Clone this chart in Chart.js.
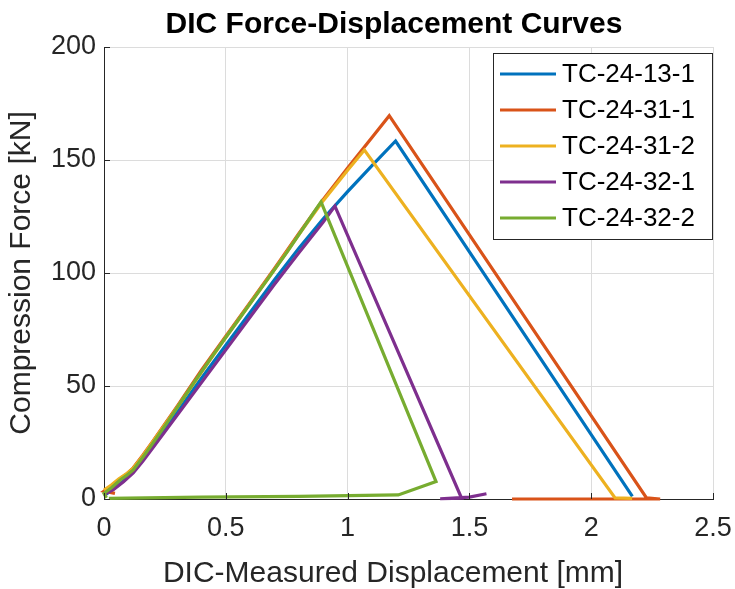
<!DOCTYPE html>
<html>
<head>
<meta charset="utf-8">
<title>DIC Force-Displacement Curves</title>
<script src="https://cdn.jsdelivr.net/npm/chart.js@4.4.0/dist/chart.umd.min.js"></script>
<style>
  html, body { margin: 0; padding: 0; background: #fff; }
  #wrap { width: 735px; height: 589px; position: relative; }
</style>
</head>
<body>
<div id="wrap"><canvas id="dic-chart"></canvas></div>
<script>
// --- datos (desplazamiento en mm, fuerza en kN) ---
const seriesLabels = ['TC-24-13-1', 'TC-24-31-1', 'TC-24-31-2', 'TC-24-32-1', 'TC-24-32-2'];
const seriesColors = ['#0072BD', '#D95319', '#EDB120', '#7E2F8E', '#77AC30'];

const disp13_1  = [0.0, 0.04, 0.08, 0.12, 0.16, 0.2, 0.3, 0.4, 0.5, 0.6, 0.7, 0.8, 0.9, 1.0, 1.1, 1.197, 2.169];
const force13_1 = [1.5, 4.5, 8, 12, 17.5, 23.5, 38.5, 53.5, 68, 82.5, 97, 111, 124, 136, 147.5, 158.4, 1.2];

const disp31_1  = [0.045, 0.0, 0.03, 0.06, 0.09, 0.12, 0.16, 0.2, 0.3, 0.4, 0.5, 0.6, 0.7, 0.8, 0.9, 1.0, 1.1, 1.171, 2.227, 2.283, 1.675];
const force31_1 = [2.5, 3.5, 5.8, 8.5, 10.8, 13.8, 19.5, 25.5, 41, 57, 72, 87, 102, 117.5, 132.5, 146.5, 160, 169.6, 0.5, 0, 0];

const disp31_2  = [0.0, 0.03, 0.06, 0.09, 0.12, 0.16, 0.2, 0.3, 0.4, 0.5, 0.6, 0.7, 0.8, 0.9, 1.0, 1.069, 2.098, 2.168];
const force31_2 = [4, 6.2, 8.8, 11, 13.6, 19.2, 25.2, 40.5, 56, 71.5, 86.5, 101.5, 117, 132, 145.5, 154.4, 0.5, 0.3];

const disp32_1  = [0.0, 0.04, 0.08, 0.12, 0.16, 0.2, 0.3, 0.4, 0.5, 0.6, 0.7, 0.8, 0.9, 0.948, 1.468, 1.38, 1.50, 1.57];
const force32_1 = [2, 4.3, 7.6, 11.5, 16.8, 22.5, 37, 51.5, 66, 80.5, 95, 109, 122.5, 129.6, 0.3, 0.1, 0.8, 2.3];

const disp32_2  = [0.01, 0.0, 0.033, 0.066, 0.095, 0.12, 0.161, 0.2, 0.257, 0.312, 0.367, 0.45, 0.55, 0.65, 0.75, 0.85, 0.891, 1.363, 1.208, 0.8, 0.4, 0.02];
const force32_2 = [0.5, 2.5, 5.2, 8.4, 10.6, 12.9, 18.7, 24.6, 33.5, 42.3, 51.2, 64, 79, 94, 109, 125, 131.5, 7.7, 1.8, 1.2, 0.8, 0.3];

const xTicks = [0, 0.5, 1, 1.5, 2, 2.5];
const yTicks = [0, 50, 100, 150, 200];

const allDisp  = [disp13_1, disp31_1, disp31_2, disp32_1, disp32_2];
const allForce = [force13_1, force31_1, force31_2, force32_1, force32_2];

const FONT = "'Liberation Sans', Arial, Helvetica, sans-serif";
const AXIS_COLOR = '#262626';

// --- construir datasets ---
const datasets = seriesLabels.map((label, i) => ({
    label: label,
    data: allDisp[i].map((x, k) => ({ x: x, y: allForce[i][k] })),
    borderColor: seriesColors[i],
    backgroundColor: seriesColors[i],
    borderWidth: 3.2,
    showLine: true,
    pointRadius: 0,
    tension: 0,
    clip: 6,
    order: seriesLabels.length - 1 - i // el ultimo (verde) queda encima
}));

// titulo, etiqueta x, leyenda y marcas de eje al estilo MATLAB
const matlabDecor = {
    id: 'matlabDecor',
    afterDraw(chart) {
        const ctx = chart.ctx;
        const area = chart.chartArea;
        const xs = chart.scales.x, ys = chart.scales.y;
        ctx.save();

        // marcas hacia dentro
        ctx.strokeStyle = AXIS_COLOR;
        ctx.lineWidth = 1;
        ctx.beginPath();
        xTicks.forEach(v => {
            const px = Math.round(xs.getPixelForValue(v)) + 0.5;
            ctx.moveTo(px, area.bottom);
            ctx.lineTo(px, area.bottom - 6);
        });
        yTicks.forEach(v => {
            const py = Math.round(ys.getPixelForValue(v)) + 0.5;
            ctx.moveTo(area.left, py);
            ctx.lineTo(area.left + 6, py);
        });
        ctx.stroke();

        // titulo
        ctx.fillStyle = '#000';
        ctx.font = 'bold 30px ' + FONT;
        ctx.textAlign = 'center';
        ctx.textBaseline = 'alphabetic';
        ctx.fillText('DIC Force-Displacement Curves', 394, 33);

        // etiqueta del eje x
        ctx.fillStyle = AXIS_COLOR;
        ctx.font = '30px ' + FONT;
        ctx.fillText('DIC-Measured Displacement [mm]', 393, 582);

        // leyenda
        const lx = 493.5, ly = 53.5, lw = 219, lh = 186;
        ctx.fillStyle = '#fff';
        ctx.fillRect(lx, ly, lw, lh);
        ctx.strokeStyle = AXIS_COLOR;
        ctx.lineWidth = 1;
        ctx.strokeRect(lx, ly, lw, lh);
        ctx.font = '26px ' + FONT;
        ctx.textAlign = 'left';
        ctx.textBaseline = 'middle';
        seriesLabels.forEach((label, i) => {
            const cy = 74 + i * 36;
            ctx.strokeStyle = seriesColors[i];
            ctx.lineWidth = 3.2;
            ctx.beginPath();
            ctx.moveTo(500, cy);
            ctx.lineTo(556, cy);
            ctx.stroke();
            ctx.fillStyle = '#000';
            ctx.fillText(label, 562, cy + 1);
        });
        ctx.restore();
    }
};

const ctx = document.getElementById('dic-chart').getContext('2d');

new Chart(ctx, {
    type: 'scatter',
    data: { datasets: datasets },
    plugins: [matlabDecor],
    options: {
        responsive: true,
        maintainAspectRatio: false,
        animation: false,
        layout: {
            padding: { top: 47, right: 22, left: 0, bottom: 0 }
        },
        plugins: {
            legend: { display: false },
            title: { display: false },
            tooltip: { enabled: false }
        },
        scales: {
            x: {
                type: 'linear',
                min: 0,
                max: 2.5,
                afterBuildTicks: scale => { scale.ticks = xTicks.map(v => ({ value: v })); },
                afterFit: scale => {
                    scale.height = 90;
                    scale.paddingLeft = 0;
                    scale.paddingRight = 0;
                },
                border: { display: true, color: AXIS_COLOR, width: 1 },
                grid: { color: '#dcdcdc', lineWidth: 1, drawTicks: false },
                ticks: {
                    padding: 13,
                    color: AXIS_COLOR,
                    font: { family: FONT, size: 27 },
                    maxRotation: 0,
                    callback: value => String(value)
                }
            },
            y: {
                type: 'linear',
                min: 0,
                max: 200,
                afterBuildTicks: scale => { scale.ticks = yTicks.map(v => ({ value: v })); },
                afterFit: scale => {
                    scale.width = 104;
                    scale.paddingTop = 0;
                    scale.paddingBottom = 0;
                },
                border: { display: true, color: AXIS_COLOR, width: 1 },
                grid: { color: '#dcdcdc', lineWidth: 1, drawTicks: false },
                ticks: {
                    padding: 8,
                    color: AXIS_COLOR,
                    font: { family: FONT, size: 27 },
                    callback: value => String(value)
                },
                title: {
                    display: true,
                    text: 'Compression Force [kN]',
                    color: AXIS_COLOR,
                    font: { family: FONT, size: 30, lineHeight: 1.0 },
                    padding: { top: 7, bottom: 0 }
                }
            }
        }
    }
});
</script>
</body>
</html>
